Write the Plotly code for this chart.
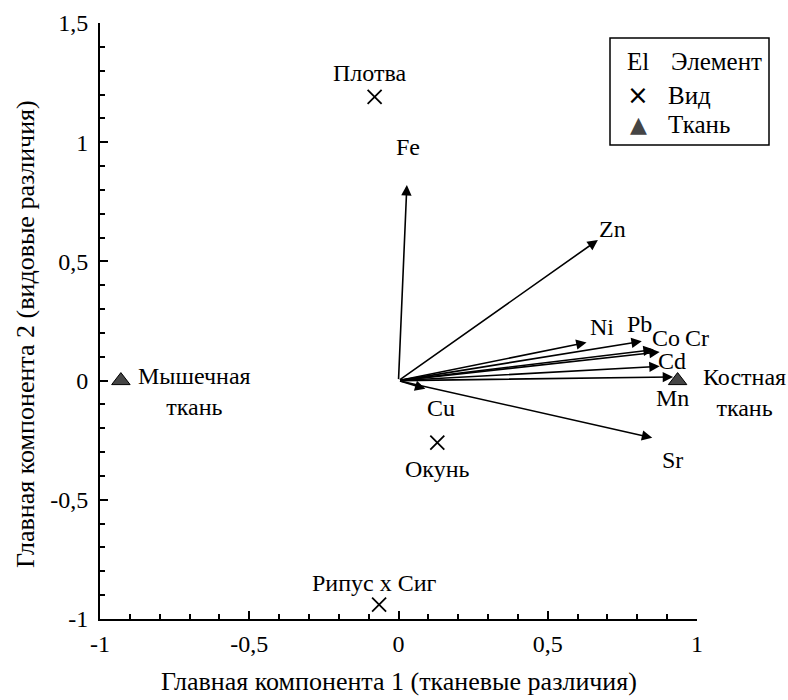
import plotly.graph_objects as go

# ---- data ----
elements = ["Fe", "Zn", "Ni", "Pb", "Co", "Cr", "Cd", "Mn", "Sr", "Cu"]
el_x = [0.028, 0.668, 0.63, 0.815, 0.855, 0.875, 0.875, 0.92, 0.85, 0.09]
el_y = [0.82, 0.59, 0.16, 0.165, 0.13, 0.12, 0.06, 0.015, -0.24, -0.034]

species = ["Плотва", "Окунь", "Рипус х Сиг"]
sp_x = [-0.08, 0.13, -0.065]
sp_y = [1.19, -0.26, -0.94]

tissues = ["Мышечная<br>ткань", "Костная<br>ткань"]
ti_x = [-0.93, 0.935]
ti_y = [0.0, 0.0]

tick_vals_x = [-1, -0.5, 0, 0.5, 1]
tick_text_x = ["-1", "-0,5", "0", "0,5", "1"]
tick_vals_y = [-1, -0.5, 0, 0.5, 1, 1.5]
tick_text_y = ["-1", "-0,5", "0", "0,5", "1", "1,5"]

x_title = "Главная компонента 1 (тканевые различия)"
y_title = "Главная компонента 2 (видовые различия)"

# ---- label offsets (pixels) ----
el_off = {"Fe": (1, 38), "Zn": (15, 11), "Ni": (15, 15), "Pb": (-2, 17),
          "Co": (12, 12), "Cr": (37, 14), "Cd": (12, 5), "Mn": (-1, -21),
          "Sr": (20, -22), "Cu": (16, -19)}
sp_off = [(-5, 24), (0, -26), (-5, 22)]
ti_off = [(74, -11), (67, -12)]

FONT = "Liberation Serif, Times New Roman, Tinos, DejaVu Serif, serif"
LBL = 24

W, H = 788, 700
PL, PT, PR, PB = 100, 23, 697, 619   # plot area in pixels

fig = go.Figure()
fig.add_trace(go.Scatter(x=sp_x, y=sp_y, mode="markers",
                         marker=dict(symbol="x-thin-open", size=14, color="black",
                                     line=dict(color="black", width=1.8)),
                         showlegend=False, hoverinfo="skip"))
fig.add_trace(go.Scatter(x=ti_x, y=ti_y, mode="markers",
                         marker=dict(symbol="triangle-up", size=16, color="#454545",
                                     line=dict(color="black", width=1)),
                         showlegend=False, hoverinfo="skip"))

ann = []
for name, x, y in zip(elements, el_x, el_y):
    ann.append(dict(x=x, y=y, ax=0, ay=0, xref="x", yref="y", axref="x", ayref="y",
                    showarrow=True, arrowhead=2, arrowsize=1.3, arrowwidth=1.6,
                    arrowcolor="black", text=""))
    dx, dy = el_off[name]
    ann.append(dict(x=x, y=y, xref="x", yref="y", text=name, showarrow=False,
                    xshift=dx, yshift=dy, font=dict(family=FONT, size=LBL, color="black")))
for name, x, y, (dx, dy) in zip(species, sp_x, sp_y, sp_off):
    ann.append(dict(x=x, y=y, xref="x", yref="y", text=name, showarrow=False,
                    xshift=dx, yshift=dy, font=dict(family=FONT, size=LBL, color="black")))
for name, x, y, (dx, dy) in zip(tissues, ti_x, ti_y, ti_off):
    ann.append(dict(x=x, y=y, xref="x", yref="y", text=name, showarrow=False,
                    xshift=dx, yshift=dy, align="center",
                    font=dict(family=FONT, size=LBL, color="black")))

# pixel -> paper coords
def px(v):
    return (v - PL) / (PR - PL)
def py(v):
    return (PB - v) / (PB - PT)

# axis titles
ann.append(dict(x=px(399), y=py(681), xref="paper", yref="paper", text=x_title,
                showarrow=False, xanchor="center", yanchor="middle",
                font=dict(family=FONT, size=26, color="black")))
ann.append(dict(x=px(25), y=py(334), xref="paper", yref="paper", text=y_title,
                showarrow=False, xanchor="center", yanchor="middle", textangle=-90,
                font=dict(family=FONT, size=26, color="black")))

# legend (manual)
leg_rows = [("El", "Элемент", 62), ("×", "Вид", 95), ("▲", "Ткань", 124)]
for sym, txt, yy in leg_rows:
    symfont = dict(family=FONT, size=25, color="black")
    if sym == "▲":
        symfont = dict(family="DejaVu Sans", size=22, color="#454545")
    elif sym == "×":
        symfont = dict(family="DejaVu Sans", size=26, color="black")
    ann.append(dict(x=px(638), y=py(yy), xref="paper", yref="paper", text=sym,
                    showarrow=False, xanchor="center", yanchor="middle", font=symfont))
    ann.append(dict(x=px(669 if txt == "Элемент" else 666), y=py(yy), xref="paper", yref="paper",
                    text=txt, showarrow=False, xanchor="left", yanchor="middle",
                    font=dict(family=FONT, size=25, color="black")))

fig.update_layout(
    width=W, height=H,
    margin=dict(l=PL, r=W - PR, t=PT, b=H - PB, autoexpand=False),
    plot_bgcolor="white", paper_bgcolor="white",
    annotations=ann,
    shapes=[dict(type="rect", xref="paper", yref="paper",
                 x0=px(610), x1=px(769), y0=py(145), y1=py(38),
                 line=dict(color="black", width=1.5), fillcolor="rgba(0,0,0,0)")],
    font=dict(family=FONT, color="black"),
)
fig.update_xaxes(range=[-1, 1], showgrid=False, zeroline=False, showline=True,
                 linecolor="black", linewidth=2, ticks="inside", ticklen=8, tickwidth=1.5,
                 tickcolor="black", tickvals=tick_vals_x, ticktext=tick_text_x,
                 tickfont=dict(family=FONT, size=24), ticklabelstandoff=2, automargin=False,
                 minor=dict(dtick=0.1, tick0=0, ticks="inside", ticklen=5, tickwidth=1.5, tickcolor="black"))
fig.update_yaxes(range=[-1, 1.5], showgrid=False, zeroline=False, showline=True,
                 linecolor="black", linewidth=2, ticks="inside", ticklen=8, tickwidth=1.5,
                 tickcolor="black", tickvals=tick_vals_y, ticktext=tick_text_y,
                 tickfont=dict(family=FONT, size=24), ticklabelstandoff=5, automargin=False,
                 minor=dict(dtick=0.1, tick0=0, ticks="inside", ticklen=5, tickwidth=1.5, tickcolor="black"))

# remove the page's default body margin so the figure fills the window exactly
fig.write_html("out.html", config={"displayModeBar": False},
               post_script="document.body.style.margin='0';document.body.style.overflow='hidden';")
